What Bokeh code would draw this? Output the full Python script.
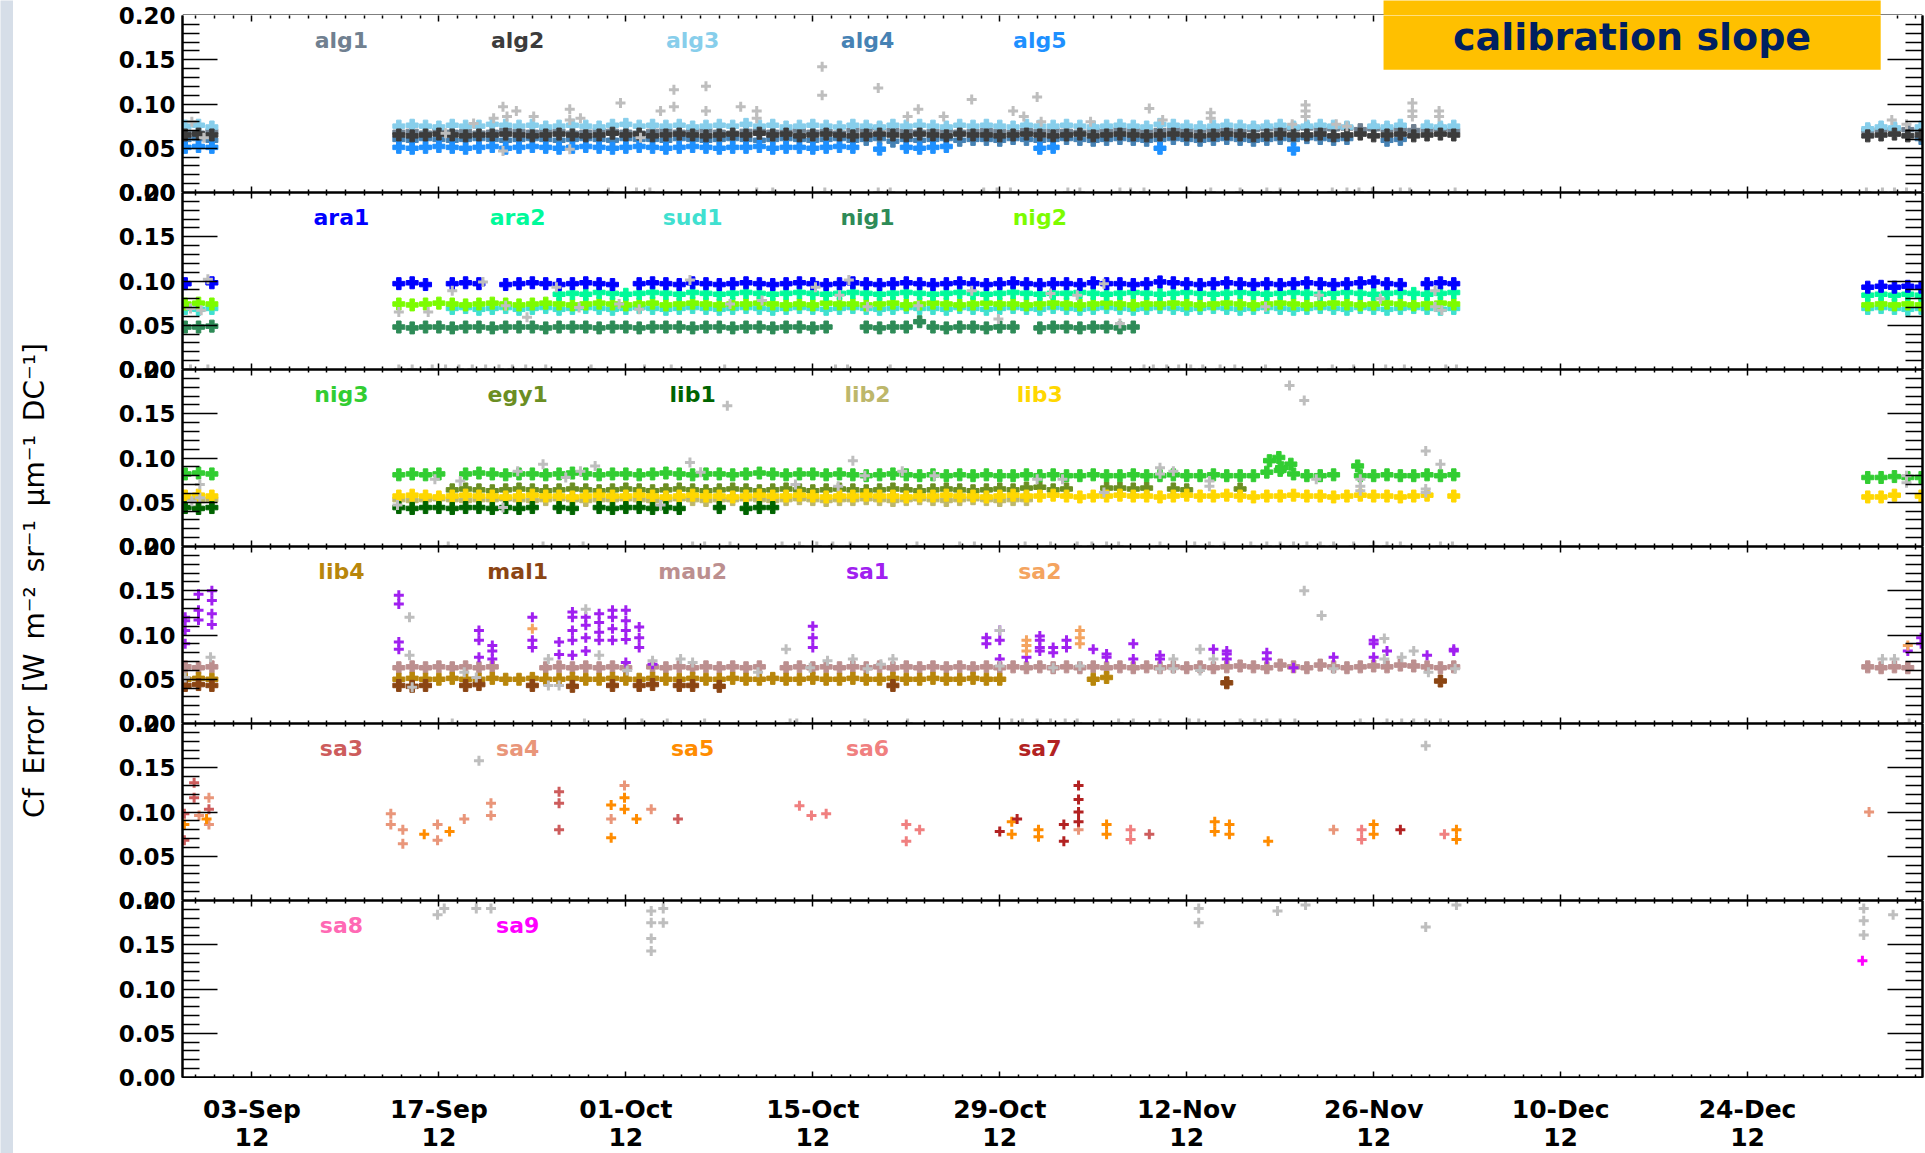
import math
from bokeh.plotting import figure
from bokeh.layouts import column, row
from bokeh.models import Range1d, FixedTicker, LinearAxis, Label, BoxAnnotation, Span
from bokeh.core.properties import value
from bokeh.embed import file_html
from bokeh.resources import INLINE

N = None

# Observation days, counted from 1 Sep 2012 (= day 0)
DAYS = [-3, -2, -1] + list(range(13, 93)) + list(range(123, 128))

# x-axis ticks (day numbers) and their labels
X_TICKS = [2, 16, 30, 44, 58, 72, 86, 100, 114]
X_TICK_LABELS = ["03-Sep\n12", "17-Sep\n12", "01-Oct\n12", "15-Oct\n12", "29-Oct\n12",
                 "12-Nov\n12", "26-Nov\n12", "10-Dec\n12", "24-Dec\n12"]
Y_TICKS = [0.0, 0.05, 0.10, 0.15, 0.20]
Y_TICK_LABELS = ["0.00", "0.05", "0.10", "0.15", "0.20"]
Y_TITLE = "Cf\u2002Error\u2002[W\u2002m\u207b\u00b2\u2002sr\u207b\u00b9\u2002\u03bcm\u207b\u00b9\u2002DC\u207b\u00b9]"

# ---- daily calibration-slope errors, in units of 1e-3 (None = no retrieval) ----
alg1 = [68, 67, 69,
        68, 69, 67, 70, 68, 69, 67, 68, 70, 69,
        68, 70, 69, 67, 68, 70, 69, 68, 67, 69,
        70, 68, 69, 70, 68, 67, 69, 70, 68, 69,
        70, 68, 69, 67, 70, 71, 73, 70, 69, 68,
        69, 70, 68, 69, 70, 69, 68, 70, 69, 70,
        69, 68, 70, 69, 71, 70, 69, 70, 71, 70,
        70, 71, 70, 69, 71, 72, 71, 72, 73, 71,
        72, 73, 71, 72, 71, 72, 70, 71, 72, 70,
        70, 71, 72, 71, 70]
alg2 = [65, 66, 65,
        65, 64, 65, 66, 65, 64, 65, 65, 66, 65,
        64, 65, 66, 65, 64, 65, 67, 65, 66, 64,
        65, 66, 65, 64, 65, 66, 65, 67, 65, 66,
        64, 65, 66, 65, 64, 65, 66, 65, 64, 66,
        65, 64, 66, 65, 65, 64, 65, 66, 65, 64,
        65, 66, 64, 65, 66, 65, 64, 65, 66, 65,
        64, 65, 66, 65, 64, 65, 66, 65, 65, 66,
        64, 65, 66, 64, 65, 66, 64, 65, 66, 65,
        64, 65, 66, 64, 65]
alg3 = [75, 76, 74,
        75, 76, 75, 74, 76, 75, 75, 77, 76, 75,
        76, 74, 75, 76, 75, 74, 76, 77, 75, 76,
        75, 76, 74, 75, 76, 75, 77, 75, 76, 74,
        75, 76, 75, 74, 76, 75, 74, 76, 75, 76,
        75, 74, 76, 75, 76, 75, 74, 76, 75, 75,
        76, 75, 74, 75, 76, 75, 74, 77, 76, 75,
        74, 75, 76, 75, 74, 75, 76, 74, 75, 76,
        75, 74, N, 75, 74, 76, N, 75, 74, 75,
        72, 74, 73, N, 74]
alg4 = [60, 61, 59,
        60, 59, 61, 60, 59, 60, 61, 60, 59, 60,
        61, 60, 59, 60, 61, 60, 59, 61, 60, 60,
        59, 61, 60, 59, 60, 61, 60, 59, 60, 61,
        60, 59, 60, 61, 59, 60, 61, 58, 60, 59,
        60, 61, 59, 60, 60, 59, 61, 60, 59, 60,
        61, 60, 59, 60, 61, 60, 59, 60, 61, 60,
        59, 60, 61, 60, 59, 60, 61, 60, 62, 61,
        60, 61, N, N, 59, 60, N, N, N, N,
        N, N, N, N, 61]
alg5 = [51, 52, 51,
        51, 50, 51, 52, 51, 50, 51, 52, 50, 51,
        52, 51, 50, 51, 52, 51, 50, 51, 52, 51,
        50, 51, 52, 51, 50, 51, 51, 52, 50, 51,
        51, 50, 51, 52, 51, N, 49, N, 51, 50,
        51, 52, N, N, N, N, N, N, 50, 51,
        N, N, N, N, N, N, N, 50, N, N,
        N, N, N, N, N, N, N, 49, N, N] + [N] * 15

ara1 = [97, N, 98,
        97, 98, 96, N, 97, 98, 97, N, 96, 97,
        98, 97, 96, 97, 98, 97, 96, N, 97, 98,
        97, 96, 98, 97, 96, 97, 98, 97, 96, 97,
        98, 97, 96, 97, 98, 97, 96, 97, 98, 97,
        96, 97, 98, 97, 96, 97, 98, 97, 96, 97,
        97, 96, 98, 97, 97, 96, 97, 99, 98, 97,
        96, 97, 98, 97, 96, 97, 96, 97, 98, 97,
        96, 97, 98, 99, 97, 96, N, 97, 98, 97,
        93, 94, 93, 94, 93]
ara2 = [N, N, N,
        N, N, N, N, N, N, N, N, N, N,
        N, N, 85, 86, 85, 87, 86, 85, 86, 87,
        86, 85, 87, 86, 85, 86, 87, 86, 85, 86,
        87, 86, 85, 86, 87, 86, 85, 86, 87, 86,
        85, 86, 87, 86, 85, 86, 87, 86, 85, 86,
        86, 87, 86, 85, 86, 87, 86, 85, 86, 87,
        86, 85, 86, 87, 86, 85, 86, 87, 86, 85,
        86, 87, 86, 85, 86, 87, 86, 85, 86, 87,
        84, 85, 84, 85, 84]
sud1 = [69, 68, 69,
        N, N, N, N, 69, 70, 68, 69, 70, 68,
        69, 70, 68, 69, 70, 69, 68, 69, 70, 69,
        68, 69, 70, 69, 68, 69, 70, 69, 68, 69,
        70, 69, 68, 69, 70, 69, 68, 69, 70, 69,
        69, 68, 70, 69, 68, 69, 70, 69, 68, 70,
        69, 68, 69, 70, 69, 68, 69, 70, 69, 68,
        69, 70, 69, 68, 69, 70, 69, 68, 69, 70,
        69, 68, 70, 69, 68, 69, 70, 69, 68, 69,
        69, 70, 69, 68, 69]
nig1 = [48, 48, 49,
        48, 47, 48, 48, 47, 48, 48, 47, 48, 48,
        48, 47, 48, 48, 48, 47, 48, 48, 47, 48,
        48, 48, 47, 48, 48, 47, 48, 48, 47, 48,
        48, 47, 48, N, N, 48, 47, 48, 48, 54,
        48, 47, 48, 48, 47, 48, 48, N, 47, 48,
        48, 47, 48, 48, 47, 48, N, N, N, N] + [N] * 25
nig2 = [74, 75, 74,
        74, 73, 74, 75, 74, 73, 74, 75, 74, 73,
        74, 75, 74, 73, 74, 75, 74, 73, 74, 75,
        73, 74, 75, 74, 73, 74, 74, 75, 74, 73,
        74, 73, 75, 74, 74, 73, 74, 75, 73, 74,
        75, 74, 73, 74, 75, 74, 74, 73, 74, 75,
        74, 73, 74, 75, 74, 73, 74, 74, 75, 74,
        73, 74, 75, 74, 73, 74, 75, 74, 73, 74,
        75, 74, 73, 74, 75, 74, 73, 74, 75, 74,
        73, 74, 73, 74, 73]

nig3 = [82, 83, 82,
        81, 82, 81, 82, N, 82, 83, 82, 81, 82,
        82, 81, 82, 83, 82, 81, 82, 82, 81, 82,
        83, 82, 81, 82, 82, 81, 82, 83, 82, 81,
        82, 82, 81, 82, 81, 80, 81, 82, 81, 80,
        81, 80, 81, 80, 81, 80, 80, 81, 80, 81,
        80, 80, 81, 80, 80, 81, 80, 80, 81, 80,
        80, 81, 80, 80, 80, 84, 86, 82, 80, 80,
        81, N, 80, 80, 81, 80, 80, 81, 80, 81,
        78, 78, 79, 78, 78]
egy1 = [N, N, N,
        N, N, N, N, 64, 65, 64, 63, 64, 65,
        64, 63, 64, 65, 64, 63, 64, 65, 64, 63,
        64, 65, 64, 63, 64, 65, 64, 63, 64, 65,
        64, 63, 64, 65, 64, 63, 64, 65, 64, 63,
        64, 65, 64, 63, 64, 65, 64, 66, 67, 64,
        65, N, N, 66, 66, 65, 66, N, 65, 64,
        N, N, N, 65, N, N, N, N, N, N] + [N] * 15
lib1 = [44, 43, 44,
        44, 43, 44, 44, 43, 44, 44, 43, 44, 43,
        44, N, 44, 43, N, 44, 43, 44, 44, 43,
        44, 43, N, N, 44, N, 43, 44, 44, N] + [N] * 55
lib2 = [53, 52, 53,
        53, 52, 53, 54, 53, 52, 53, 53, 54, 53,
        52, 53, 54, 53, 52, 53, 53, 54, 53, 52,
        53, 54, 53, 52, 53, 53, 54, 53, 52, 53,
        54, 53, 52, 53, 53, 54, 53, 52, 53, 54,
        53, 52, 53, 54, 53, 52, 53, 53, N, N] + [N] * 35
lib3 = [57, 58, 57,
        57, 58, 57, 56, 57, 58, 57, 57, 56, 57,
        58, 57, 57, 56, 57, 58, 57, 57, 58, 57,
        56, 57, 58, 57, 57, 56, 57, 58, 57, 57,
        58, 57, 56, 57, 57, 58, 57, 57, 56, 57,
        57, 58, 57, 57, 56, 57, 58, 57, 57, 58,
        57, 56, 57, 57, 58, 57, 57, 56, 57, 58,
        57, 57, 58, 57, 56, 57, 57, 58, 57, 57,
        56, 57, 58, 57, 57, 56, 57, 58, N, 57,
        56, 56, 58, N, 57]

lib4 = [50, 51, 50,
        50, 51, 50, 50, 51, 50, 50, 51, 50, 50,
        51, 50, 50, 51, 50, 50, 51, 50, 50, 51,
        50, 50, 51, 50, 50, 51, 50, 50, 51, 50,
        50, 51, 50, 50, 51, 50, 50, 51, 50, 50,
        51, 50, 50, 51, 50, 50, N, N, N, N,
        N, N, 50, 52, N, N, N, N, N, N] + [N] * 25
mau2 = [64, 63, 64,
        63, 64, 63, 64, 63, 64, 63, 64, N, N,
        N, 63, 64, 63, 64, 63, 64, 63, N, 64,
        63, 64, 63, 64, 63, 64, 63, 64, N, 63,
        64, 63, 64, 63, 64, 63, 64, 63, 64, 63,
        64, 63, 64, 63, 64, 63, 64, 63, 64, 63,
        64, 63, 64, 63, 64, 63, 64, 63, 64, 63,
        64, 63, 64, 65, 64, 63, 66, 64, 63, 66,
        64, 63, 64, 65, 64, 66, 65, 64, 63, 64,
        64, 63, 64, 63, N]

# ---- sparse retrievals: (day, value) ----
mal1 = [(-3, 0.043), (-2, 0.044), (-1, 0.043), (13, 0.043), (14, 0.042), (15, 0.043),
        (18, 0.043), (19, 0.044), (23, 0.043), (26, 0.042), (29, 0.043), (31, 0.043),
        (32, 0.044), (34, 0.043), (35, 0.043), (37, 0.042), (50, 0.043), (75, 0.046),
        (91, 0.048)]
sa1 = [(-3, 0.120), (-3, 0.116), (-3, 0.105), (-3, 0.090),
       (-2, 0.146), (-2, 0.128), (-2, 0.117),
       (-1, 0.150), (-1, 0.139), (-1, 0.124), (-1, 0.112),
       (13, 0.145), (13, 0.135), (13, 0.092), (13, 0.084),
       (19, 0.105), (19, 0.094), (19, 0.075),
       (20, 0.088), (20, 0.082), (20, 0.073),
       (23, 0.120), (23, 0.094), (23, 0.086),
       (25, 0.092), (25, 0.078),
       (26, 0.126), (26, 0.120), (26, 0.105), (26, 0.094), (26, 0.077),
       (27, 0.120), (27, 0.111), (27, 0.097), (27, 0.082),
       (28, 0.124), (28, 0.114), (28, 0.103), (28, 0.094),
       (29, 0.128), (29, 0.120), (29, 0.107), (29, 0.094),
       (30, 0.128), (30, 0.116), (30, 0.105), (30, 0.095), (30, 0.069),
       (31, 0.109), (31, 0.097), (31, 0.086), (32, 0.067),
       (44, 0.110), (44, 0.097), (44, 0.086),
       (57, 0.097), (57, 0.090), (58, 0.105), (58, 0.094), (58, 0.073),
       (60, 0.075), (61, 0.099), (61, 0.094), (61, 0.086), (61, 0.082),
       (62, 0.086), (62, 0.080), (63, 0.094), (63, 0.086), (65, 0.084),
       (66, 0.0785), (66, 0.075), (68, 0.090), (68, 0.073), (70, 0.077), (70, 0.073),
       (74, 0.084), (75, 0.082), (75, 0.0785), (75, 0.073), (78, 0.080), (78, 0.073),
       (80, 0.063), (83, 0.075), (86, 0.094), (86, 0.090), (86, 0.075), (87, 0.082),
       (90, 0.077), (92, 0.084), (92, 0.082),
       (126, 0.082), (127, 0.097), (127, 0.090)]
sa2 = [(23, 0.107), (60, 0.094), (60, 0.088), (60, 0.082),
       (64, 0.105), (64, 0.097), (64, 0.090), (126, 0.088)]
sa3 = [(-3.06, 0.098), (-3.06, 0.068), (-2.33, 0.133), (-2.33, 0.116), (-1.22, 0.103),
       (25.0, 0.123), (25.0, 0.110), (25.0, 0.080), (33.9, 0.092), (69.2, 0.075)]
sa4 = [(-1.96, 0.096), (-1.22, 0.116), (-1.22, 0.086), (12.4, 0.098), (12.4, 0.086),
       (13.3, 0.080), (13.3, 0.064), (15.9, 0.086), (15.9, 0.068), (17.9, 0.092),
       (19.9, 0.110), (19.9, 0.096), (28.9, 0.092), (29.9, 0.130), (31.9, 0.103),
       (63.9, 0.080), (83.0, 0.080), (123.1, 0.100)]
sa5 = [(-1.4, 0.092), (-3.06, 0.086), (14.9, 0.075), (16.8, 0.078), (28.9, 0.108),
       (28.9, 0.071), (29.9, 0.116), (29.9, 0.103), (30.8, 0.092), (58.9, 0.089),
       (58.9, 0.075), (60.9, 0.080), (60.9, 0.072), (66.0, 0.086), (66.0, 0.075),
       (74.1, 0.089), (74.1, 0.078), (75.2, 0.086), (75.2, 0.075), (78.1, 0.067),
       (86.0, 0.086), (86.0, 0.075), (92.2, 0.080), (92.2, 0.069)]
sa6 = [(43.0, 0.107), (43.9, 0.096), (45.0, 0.098), (51.0, 0.086), (51.0, 0.067),
       (52.0, 0.080), (67.8, 0.080), (67.8, 0.069), (85.1, 0.080), (85.1, 0.069),
       (91.3, 0.075)]
sa7 = [(58.0, 0.078), (59.3, 0.092), (62.8, 0.086), (62.8, 0.067), (63.9, 0.130),
       (63.9, 0.114), (63.9, 0.100), (63.9, 0.089), (88.0, 0.080)]
sa8 = []
sa9 = [(122.6, 0.132)]
nig3_extra = [(78.2, 0.097), (78.9, 0.1006), (79.1, 0.089), (79.8, 0.093), (84.8, 0.091)]

# ---- rejected retrievals (grey), one list per panel: (day, value) ----
grey1 = [(20.8, 0.097), (20.1, 0.084), (21.1, 0.086), (21.8, 0.092), (23.1, 0.086),
         (25.8, 0.094), (25.8, 0.082), (26.6, 0.084), (29.6, 0.101), (32.6, 0.092),
         (33.6, 0.116), (33.6, 0.097), (36.0, 0.120), (36.0, 0.092), (38.6, 0.097),
         (39.8, 0.092), (39.8, 0.084), (44.7, 0.142), (44.7, 0.110), (20.8, 0.047),
         (25.8, 0.049), (48.9, 0.118), (51.9, 0.094), (51.1, 0.086), (53.8, 0.086),
         (55.9, 0.105), (59.0, 0.092), (59.8, 0.086), (60.8, 0.108), (61.1, 0.080),
         (64.8, 0.080), (69.2, 0.095), (70.2, 0.082), (73.8, 0.090), (73.8, 0.084),
         (80.9, 0.099), (80.9, 0.092), (80.9, 0.086), (79.9, 0.077), (84.0, 0.075),
         (83.2, 0.077), (88.9, 0.101), (88.9, 0.092), (88.9, 0.086), (90.9, 0.092),
         (90.9, 0.086), (124.8, 0.082), (125.9, 0.077), (-2.5, 0.080), (-1.6, 0.062),
         (18.6, 0.078), (16.5, 0.067), (31.1, 0.062),
         (28.7, 0.0), (30.8, 0.0), (31.8, 0.0), (39.8, 0.0), (41.0, 0.0), (44.9, 0.0),
         (48.9, 0.0), (49.8, 0.0), (56.8, 0.0), (57.8, 0.0), (58.8, 0.0), (63.1, 0.0),
         (64.0, 0.0), (67.0, 0.0), (67.8, 0.0), (68.8, 0.0), (72.0, 0.0), (73.8, 0.0),
         (76.0, 0.0), (78.0, 0.0), (79.0, 0.0), (82.9, 0.0), (84.0, 0.0), (84.9, 0.0),
         (85.9, 0.0), (88.0, 0.0), (88.7, 0.0), (92.1, 0.0), (122.9, 0.0), (124.1, 0.0),
         (125.0, 0.0), (125.9, 0.0)]
grey2 = [(-1.3, 0.102), (-2.6, 0.069), (-1.8, 0.067), (13.0, 0.065), (15.2, 0.065),
         (17.0, 0.089), (19.3, 0.099), (22.6, 0.059), (24.8, 0.093), (29.5, 0.074),
         (34.8, 0.101), (37.8, 0.074), (40.2, 0.078), (44.2, 0.093), (46.7, 0.101),
         (46.0, 0.084), (48.1, 0.071), (51.9, 0.072), (55.9, 0.089), (57.9, 0.057),
         (61.8, 0.086), (63.8, 0.084), (65.8, 0.097), (67.0, 0.052), (77.9, 0.071),
         (81.9, 0.084), (86.5, 0.080), (90.6, 0.089), (90.6, 0.071), (91.1, 0.067),
         (21.0, 0.072), (26.5, 0.070), (31.0, 0.068),
         (-2.6, 0.0), (-1.3, 0.0), (13.0, 0.0), (14.0, 0.0), (15.5, 0.0), (16.5, 0.0),
         (17.5, 0.0), (18.5, 0.0), (19.5, 0.0), (20.5, 0.0), (21.5, 0.0), (22.5, 0.0),
         (24.0, 0.0), (27.4, 0.0), (31.4, 0.0), (33.4, 0.0), (37.4, 0.0), (45.7, 0.0),
         (46.6, 0.0), (49.8, 0.0), (68.8, 0.0), (69.5, 0.0), (70.5, 0.0), (71.4, 0.0),
         (72.3, 0.0), (73.2, 0.0), (74.5, 0.0), (75.6, 0.0), (77.9, 0.0), (82.9, 0.0),
         (84.5, 0.0), (86.9, 0.0), (88.3, 0.0), (91.4, 0.0), (92.2, 0.0)]
grey3 = [(37.6, 0.159), (-1.9, 0.070), (-1.9, 0.055), (-2.5, 0.051), (12.9, 0.047),
         (15.7, 0.076), (17.6, 0.074), (20.8, 0.044), (21.9, 0.085), (23.8, 0.093),
         (25.5, 0.078), (26.6, 0.085), (27.7, 0.091), (32.6, 0.047), (34.8, 0.095),
         (35.6, 0.084), (42.7, 0.070), (45.9, 0.068), (47.0, 0.097), (47.9, 0.080),
         (50.7, 0.085), (53.1, 0.080), (60.8, 0.076), (79.7, 0.182), (80.8, 0.165),
         (70.0, 0.089), (70.0, 0.082), (71.0, 0.085), (73.7, 0.074), (73.7, 0.068),
         (62.7, 0.076), (65.8, 0.061), (81.7, 0.076), (85.0, 0.076), (85.0, 0.068),
         (85.0, 0.063), (89.9, 0.108), (91.0, 0.093), (89.9, 0.065), (89.9, 0.061),
         (125.9, 0.080), (125.9, 0.072),
         (16.7, 0.0), (23.8, 0.0), (26.8, 0.0), (35.0, 0.0), (35.9, 0.0), (37.8, 0.0),
         (41.7, 0.0), (43.0, 0.0), (44.3, 0.0), (45.5, 0.0), (46.8, 0.0), (51.8, 0.0),
         (55.0, 0.0), (56.1, 0.0), (59.9, 0.0), (61.8, 0.0), (63.8, 0.0), (64.9, 0.0),
         (66.0, 0.0), (66.9, 0.0), (70.0, 0.0), (72.6, 0.0), (73.7, 0.0), (74.8, 0.0),
         (76.8, 0.0), (78.0, 0.0), (79.0, 0.0), (80.0, 0.0), (81.0, 0.0), (82.0, 0.0),
         (83.0, 0.0), (84.5, 0.0), (86.0, 0.0), (87.0, 0.0), (88.0, 0.0), (91.0, 0.0),
         (91.9, 0.0)]
grey4 = [(13.8, 0.120), (13.8, 0.077), (-1.1, 0.075), (-3.0, 0.052), (14.0, 0.041),
         (17.9, 0.058), (18.8, 0.052), (24.2, 0.073), (24.2, 0.043), (25.0, 0.043),
         (27.0, 0.129), (28.0, 0.077), (30.1, 0.060), (32.0, 0.071), (34.1, 0.073),
         (35.0, 0.069), (39.9, 0.058), (42.0, 0.084), (43.8, 0.063), (45.1, 0.071),
         (47.0, 0.073), (48.1, 0.062), (49.1, 0.067), (50.0, 0.073), (58.0, 0.105),
         (58.0, 0.065), (80.8, 0.150), (82.1, 0.122), (62.0, 0.063), (64.0, 0.065),
         (70.0, 0.062), (71.0, 0.073), (71.0, 0.062), (73.0, 0.084), (73.0, 0.060),
         (74.0, 0.073), (83.0, 0.062), (86.8, 0.096), (86.8, 0.073), (88.1, 0.075),
         (89.0, 0.082), (90.1, 0.058), (92.1, 0.062), (124.1, 0.073), (125.0, 0.073),
         (17.0, 0.0), (26.9, 0.0), (29.9, 0.0), (31.2, 0.0), (33.1, 0.0), (35.9, 0.0),
         (42.3, 0.0), (42.8, 0.0), (47.9, 0.0), (51.1, 0.0), (58.9, 0.0), (59.7, 0.0),
         (60.8, 0.0), (61.8, 0.0), (62.9, 0.0), (63.8, 0.0), (66.9, 0.0), (68.0, 0.0),
         (70.0, 0.0), (72.2, 0.0), (72.9, 0.0), (76.0, 0.0), (77.1, 0.0), (78.0, 0.0),
         (79.0, 0.0), (80.1, 0.0), (85.0, 0.0), (87.0, 0.0), (88.1, 0.0), (89.0, 0.0),
         (89.9, 0.0), (91.0, 0.0), (126.1, 0.0)]
grey5 = [(19.0, 0.158), (89.9, 0.175)]
grey6 = [(15.9, 0.184), (16.4, 0.191), (18.8, 0.191), (19.9, 0.191), (31.9, 0.188),
         (31.9, 0.175), (31.9, 0.157), (31.9, 0.143), (32.8, 0.191), (32.8, 0.175),
         (72.9, 0.191), (72.9, 0.175), (78.8, 0.188), (80.9, 0.195), (89.9, 0.170),
         (92.2, 0.195), (122.7, 0.191), (122.7, 0.177), (122.7, 0.161), (124.9, 0.184)]

COLORS = {
    "alg1": "#708090", "alg2": "#3c3c3c", "alg3": "#87ceeb", "alg4": "#4682b4", "alg5": "#1e90ff",
    "ara1": "#0000ff", "ara2": "#00fa9a", "sud1": "#40e0d0", "nig1": "#2e8b57", "nig2": "#7cfc00",
    "nig3": "#32cd32", "egy1": "#6b8e23", "lib1": "#006400", "lib2": "#bdb76b", "lib3": "#ffd700",
    "lib4": "#b8860b", "mal1": "#8b4513", "mau2": "#bc8f8f", "sa1": "#a020f0", "sa2": "#f4a460",
    "sa3": "#cd5c5c", "sa4": "#e9967a", "sa5": "#ff8c00", "sa6": "#f08080", "sa7": "#b22222",
    "sa8": "#ff69b4", "sa9": "#ff00ff",
}
GREY = "#bebebe"

DAILY = {"alg1": alg1, "alg2": alg2, "alg3": alg3, "alg4": alg4, "alg5": alg5,
         "ara1": ara1, "ara2": ara2, "sud1": sud1, "nig1": nig1, "nig2": nig2,
         "nig3": nig3, "egy1": egy1, "lib1": lib1, "lib2": lib2, "lib3": lib3,
         "lib4": lib4, "mau2": mau2}
SPARSE_BLOB = {"mal1": mal1, "nig3": nig3_extra}
SPARSE_CROSS = {"sa1": sa1, "sa2": sa2, "sa3": sa3, "sa4": sa4, "sa5": sa5,
                "sa6": sa6, "sa7": sa7, "sa8": sa8, "sa9": sa9}

PANEL_NAMES = [["alg1", "alg2", "alg3", "alg4", "alg5"],
               ["ara1", "ara2", "sud1", "nig1", "nig2"],
               ["nig3", "egy1", "lib1", "lib2", "lib3"],
               ["lib4", "mal1", "mau2", "sa1", "sa2"],
               ["sa3", "sa4", "sa5", "sa6", "sa7"],
               ["sa8", "sa9"]]
DRAW_ORDER = [["alg1", "alg3", "alg4", "alg5", "alg2"],
              ["sud1", "nig2", "ara2", "ara1", "nig1"],
              ["lib2", "egy1", "lib3", "lib1", "nig3"],
              ["mau2", "lib4", "mal1", "sa1", "sa2"],
              ["sa3", "sa4", "sa5", "sa6", "sa7"],
              ["sa8", "sa9"]]
GREYS = [grey1, grey2, grey3, grey4, grey5, grey6]

for k, v in DAILY.items():
    if len(v) != len(DAYS):
        raise ValueError(f"{k}: {len(v)} values for {len(DAYS)} days")

# ---- layout ----
X_START, X_END = -3.2, 127.1
FRAME_H = 177          # pixel height of one panel
TOP_STRIP = 15         # strip above the first panel
BOTTOM_PAD = 76        # room for the date labels
TOTAL_H = TOP_STRIP + 6 * FRAME_H + BOTTOM_PAD
BAND_W = 13
MARGIN_W = 167
LEFT_PAD = 2
RIGHT_PAD = 3
PANEL_W = 1925 - BAND_W - MARGIN_W
LABEL_X = [8.7, 21.9, 35.0, 48.1, 61.0]
LABEL_Y = 0.172
FONT = "DejaVu Sans"
PX = 0.2 / FRAME_H     # one pixel in panel value units
BLOB = 12              # marker size of the daily retrievals

# title box in the upper right corner (day / value units of the first panel)
BOX_LEFT, BOX_RIGHT, BOX_BOTTOM = 86.74, 123.97, 0.1387
BOX_FILL = "#ffc000"

x_range = Range1d(X_START, X_END)
x_minor = [2 + 1.4 * k for k in range(-3, 90) if k % 10 != 0 and X_START <= 2 + 1.4 * k <= X_END]
y_minor = [i / 100 for i in range(1, 20) if i % 5]


def outside_box(ticks):
    return [t for t in ticks if not BOX_LEFT <= t <= BOX_RIGHT]


def tick_axis(ticks, length, line=True):
    """Axis line with inward ticks only (ticks carried as minor ticks, so no labels)."""
    ax = LinearAxis(ticker=FixedTicker(ticks=[], minor_ticks=ticks))
    ax.minor_tick_in = length
    ax.major_label_standoff = 0
    ax.major_tick_out = 0
    ax.minor_tick_out = 0
    ax.axis_line_width = 2
    ax.axis_line_color = "black" if line else None
    ax.minor_tick_line_width = 1.5
    ax.minor_tick_line_color = "black"
    return ax


def bare_figure(width, height, x_rng, y_rng, **borders):
    f = figure(width=width, height=height, x_range=x_rng, y_range=y_rng,
               output_backend="svg", toolbar_location=None,
               x_axis_location=None, y_axis_location=None, **borders)
    f.xgrid.visible = False
    f.ygrid.visible = False
    f.outline_line_color = None
    return f


def make_panel(idx):
    bottom = 1 if idx == 5 else 0
    p = bare_figure(PANEL_W, FRAME_H + bottom, x_range, Range1d(0, 0.2),
                    min_border_left=LEFT_PAD, min_border_right=RIGHT_PAD,
                    min_border_top=0, min_border_bottom=bottom)
    for side in ("left", "right"):
        p.add_layout(tick_axis(y_minor, 17), side)
        p.add_layout(tick_axis([0.05, 0.10, 0.15], 35), side)
    if idx == 0:
        # top edge line lives in the strip above; ticks stop where the title box sits
        p.add_layout(tick_axis(outside_box(x_minor), 3, False), "above")
        p.add_layout(tick_axis(outside_box(X_TICKS), 6, False), "above")
    else:
        p.add_layout(tick_axis(x_minor, 3), "above")
        p.add_layout(tick_axis(X_TICKS, 6), "above")
    p.add_layout(tick_axis(x_minor, 3), "below")
    p.add_layout(tick_axis(X_TICKS, 6), "below")
    return p


panels = []
for i in range(6):
    p = make_panel(i)
    for name in DRAW_ORDER[i]:
        col = COLORS[name]
        if name in DAILY:
            xs = [d for d, v in zip(DAYS, DAILY[name]) if v is not None]
            ys = [v / 1000 for v in DAILY[name] if v is not None]
            p.scatter(xs, ys, marker="plus", size=BLOB, fill_color=col, line_color=col, line_width=1)
        if name in SPARSE_BLOB:
            pts = SPARSE_BLOB[name]
            p.scatter([d for d, _ in pts], [v for _, v in pts], marker="plus", size=BLOB,
                      fill_color=col, line_color=col, line_width=1)
        if name in SPARSE_CROSS and SPARSE_CROSS[name]:
            pts = SPARSE_CROSS[name]
            p.scatter([d for d, _ in pts], [v for _, v in pts], marker="cross", size=10,
                      line_color=col, line_width=3)
    g = GREYS[i]
    p.scatter([d for d, _ in g], [v for _, v in g], marker="cross", size=10,
              line_color=GREY, line_width=3)
    names = PANEL_NAMES[i]
    p.text(x=LABEL_X[:len(names)], y=[LABEL_Y] * len(names), text=names,
           text_color=[COLORS[n] for n in names], text_font=value(FONT),
           text_font_style="bold", text_font_size="22px",
           text_align="center", text_baseline="middle")
    panels.append(p)

panels[0].add_layout(BoxAnnotation(left=BOX_LEFT, right=BOX_RIGHT, bottom=BOX_BOTTOM, top=0.3,
                                   fill_color=BOX_FILL, fill_alpha=1.0, line_alpha=0,
                                   level="overlay"))
panels[0].add_layout(Label(x=105.35, y=0.176, text="calibration slope", level="overlay",
                           text_font=FONT, text_font_style="bold", text_font_size="38px",
                           text_color="#002060", text_align="center", text_baseline="middle"))

strip = bare_figure(PANEL_W, TOP_STRIP, x_range, Range1d(0, 1),
                    min_border_left=LEFT_PAD, min_border_right=RIGHT_PAD,
                    min_border_top=0, min_border_bottom=0)
strip.add_layout(Span(location=0, dimension="width", line_color="black", line_width=2))
strip.add_layout(BoxAnnotation(left=BOX_LEFT, right=BOX_RIGHT, bottom=-1, top=2,
                               fill_color=BOX_FILL, fill_alpha=1.0, line_alpha=0))

# date labels under the last panel, placed on the shared day axis
foot_h = BOTTOM_PAD - 1
foot = bare_figure(PANEL_W, foot_h, x_range, Range1d(0, foot_h),
                   min_border_left=LEFT_PAD, min_border_right=RIGHT_PAD,
                   min_border_top=0, min_border_bottom=0)
foot.text(x=X_TICKS, y=[foot_h - 45] * len(X_TICKS), text=X_TICK_LABELS,
          text_font=value(FONT), text_font_style="bold", text_font_size="25px",
          text_line_height=0.95, text_color="black",
          text_align="center", text_baseline="middle")

# left margin: pale page band, then y tick labels of every panel and the shared y title
band = bare_figure(BAND_W, TOTAL_H, Range1d(0, 1), Range1d(0, 1), min_border=0)
band.background_fill_color = "#d6dee8"
band.border_fill_color = "#d6dee8"

left = bare_figure(MARGIN_W, TOTAL_H, Range1d(0, MARGIN_W),
                   Range1d(-BOTTOM_PAD * PX, 1.2 + TOP_STRIP * PX), min_border=0)
# stacked coordinate: panel k (0 = top) holds values (5 - k) * 0.2 + v
lab_y, lab_t = [], []
for k in range(6):
    for t, s in zip(Y_TICKS, Y_TICK_LABELS):
        lab_y.append((5 - k) * 0.2 + t)
        lab_t.append(s)
left.text(x=[162] * len(lab_y), y=lab_y, text=lab_t, text_font=value(FONT),
          text_font_style="bold", text_font_size="23px", text_color="black",
          text_align="right", text_baseline="middle")
left.text(x=[21], y=[0.5616], text=[Y_TITLE], angle=math.pi / 2,
          text_font=value(FONT), text_font_size="28px",
          text_align="center", text_baseline="middle", text_color="black")

layout = row(band, left, column(strip, *panels, foot, spacing=0), spacing=0)
open("out.html", "w").write(file_html(layout, INLINE))
